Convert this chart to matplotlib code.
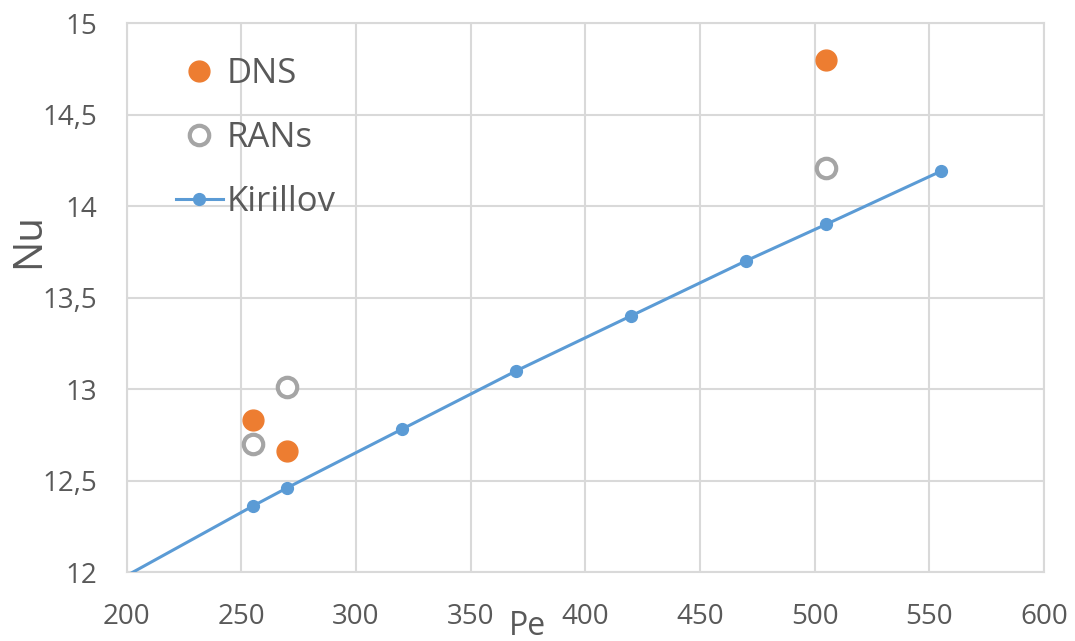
import matplotlib
matplotlib.use("Agg")
import matplotlib.pyplot as plt
from matplotlib.ticker import FuncFormatter, MultipleLocator

# Data
pe_dns = [255, 270, 505]
nu_dns = [12.83, 12.66, 14.80]

pe_rans = [255, 270, 505]
nu_rans = [12.70, 13.01, 14.21]

pe_kirillov = [200, 255, 270, 320, 370, 420, 470, 505, 555]
nu_kirillov = [11.98, 12.36, 12.46, 12.78, 13.10, 13.40, 13.70, 13.90, 14.19]

plt.rcParams["font.family"] = ["Open Sans", "DejaVu Sans"]

ORANGE = "#ED7D31"
GREY = "#A5A5A5"
BLUE = "#5B9BD5"
GRID = "#D9D9D9"
TEXT = "#595959"

fig = plt.figure(figsize=(10.75, 6.41), dpi=100)
ax = fig.add_axes([0.1177, 0.1076, 0.9712 - 0.1177, 0.9641 - 0.1076])

ax.plot(pe_kirillov, nu_kirillov, color=BLUE, lw=2.2, marker="o", ms=8.5,
        markevery=list(range(1, len(pe_kirillov))), label="Kirillov", zorder=3)
ax.plot(pe_dns, nu_dns, ls="none", marker="o", ms=15, color=ORANGE,
        label="DNS", zorder=4)
ax.plot(pe_rans, nu_rans, ls="none", marker="o", ms=14, mfc="white",
        mec=GREY, mew=3, label="RANs", zorder=4)

ax.set_xlim(200, 600)
ax.set_ylim(12, 15)
ax.xaxis.set_major_locator(MultipleLocator(50))
ax.yaxis.set_major_locator(MultipleLocator(0.5))
ax.yaxis.set_major_formatter(FuncFormatter(lambda v, p: f"{v:g}".replace(".", ",")))

ax.grid(True, color=GRID, lw=1.5)
ax.set_axisbelow(True)
for s in ax.spines.values():
    s.set_color(GRID)
    s.set_linewidth(1.5)
ax.tick_params(length=0, labelsize=20, labelcolor=TEXT)
ax.tick_params(axis="x", pad=22)
ax.tick_params(axis="y", pad=21)

xl = ax.set_xlabel("Pe", fontsize=23, color=TEXT)
xl.set_va("baseline")
xl.set_ha("center")
ax.xaxis.set_label_coords(0.4365, -0.1148)

yl = ax.set_ylabel("Nu", fontsize=29, color=TEXT)
yl.set_va("center")
yl.set_ha("center")
ax.yaxis.set_label_coords(-0.1065, 0.603)

handles, labels = ax.get_legend_handles_labels()
order = [1, 2, 0]
leg = ax.legend([handles[i] for i in order], [labels[i] for i in order],
                loc="upper left", bbox_to_anchor=(176 / 1075, 1 - 57 / 641),
                bbox_transform=fig.transFigure, frameon=False, fontsize=25,
                handlelength=1.35, handletextpad=0.11, labelspacing=0.87,
                borderpad=0, borderaxespad=0, numpoints=1)
for t in leg.get_texts():
    t.set_color(TEXT)

fig.savefig("out.png", dpi=100)
